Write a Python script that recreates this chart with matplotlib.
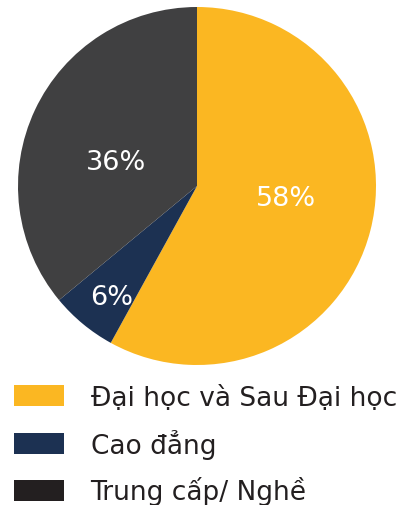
import numpy as np
import matplotlib
matplotlib.use("Agg")
import matplotlib.pyplot as plt
from matplotlib.patches import Patch

labels = ["Đại học và Sau Đại học", "Cao đẳng", "Trung cấp/ Nghề"]
shares = [58, 6, 36]
colors = ["#FBB722", "#1C3152", "#404041"]
legend_colors = ["#FBB722", "#1C3152", "#231F20"]

plt.rcParams["font.family"] = ["DejaVu Sans"]

fig = plt.figure(figsize=(4.02, 5.06), dpi=100)
ax = fig.add_axes([18 / 402, 140 / 506, 358 / 402, 358 / 506])

wedges, texts, autotexts = ax.pie(
    shares, colors=colors, startangle=90, counterclock=False,
    autopct="%d%%", pctdistance=0.5, radius=1.0,
    wedgeprops=dict(linewidth=0),
    textprops=dict(color="white", fontsize=19.5),
)

# label placement: distance from centre and angle nudge (degrees)
label_dist = [0.50, 0.78, 0.47]
label_nudge = [6.5, 2.0, 8.6]
for w, t, d, n in zip(wedges, autotexts, label_dist, label_nudge):
    mid = np.deg2rad((w.theta1 + w.theta2) / 2 + n)
    t.set_position((d * np.cos(mid), d * np.sin(mid)))

ax.set_xlim(-1, 1)
ax.set_ylim(-1, 1)
ax.set_aspect("equal")
ax.axis("off")

handles = [Patch(facecolor=c, edgecolor="none") for c in legend_colors]
fig.legend(handles, labels, loc="upper left", bbox_to_anchor=(14 / 402, 1 - 386 / 506),
           frameon=False, fontsize=19, handlelength=1.9, handleheight=0.83,
           handletextpad=1.0, labelspacing=0.67, borderpad=0, borderaxespad=0,
           labelcolor="#231F20")

fig.savefig("out.png", dpi=100)
